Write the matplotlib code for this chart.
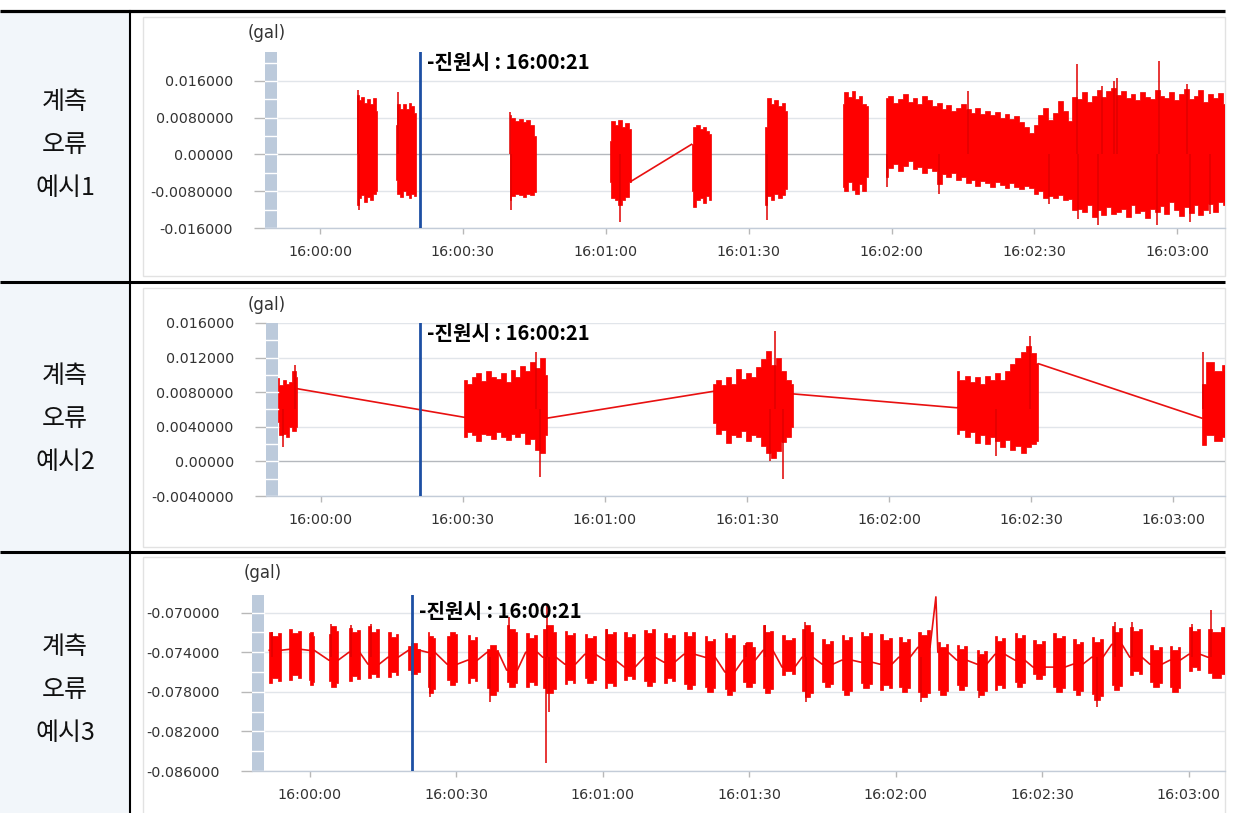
import numpy as np
import matplotlib
matplotlib.use('Agg')
import matplotlib.pyplot as plt
from matplotlib.patches import Rectangle
from matplotlib.transforms import blended_transform_factory, Bbox, TransformedBbox

plt.rcParams['font.family'] = ['DejaVu Sans', 'Noto Sans CJK KR']
CJK = ['Noto Sans CJK KR', 'DejaVu Sans']

W, H = 1234, 813

# ---------------- data (seconds after 16:00:00, gal) ----------------
row_labels = [['계측', '오류', '예시1'], ['계측', '오류', '예시2'], ['계측', '오류', '예시3']]
x_ticks = [0, 30, 60, 90, 120, 150, 180]
x_tick_labels = ['16:00:00', '16:00:30', '16:01:00', '16:01:30', '16:02:00', '16:02:30', '16:03:00']
origin_sec = 21
origin_label = '-진원시 : 16:00:21'
unit_label = '(gal)'

# panel 1: recorded bursts (start, end, upper / lower envelope)
p1_yticks = [0.016, 0.008, 0.0, -0.008, -0.016]
p1_ylabels = ['0.016000', '0.0080000', '0.00000', '-0.0080000', '-0.016000']
p1_t0 = [7.8, 15.9, 39.8, 60.8, 78.0, 93.5, 109.7, 118.8]
p1_t1 = [12.0, 20.1, 45.3, 65.2, 82.1, 98.1, 115.0, 190.0]
p1_up = [
    [0.0130, 0.0118, 0.0125, 0.0112, 0.0120, 0.0110, 0.0122, 0.0095],
    [0.0065, 0.0110, 0.0100, 0.0110, 0.0098, 0.0112, 0.0105, 0.0090],
    [0.0085, 0.0080, 0.0072, 0.0078, 0.0070, 0.0075, 0.0065, 0.0040],
    [0.0030, 0.0072, 0.0065, 0.0075, 0.0060, 0.0068, 0.0055],
    [0.0022, 0.0060, 0.0064, 0.0055, 0.0060, 0.0050, 0.0045],
    [0.0060, 0.0123, 0.0110, 0.0118, 0.0105, 0.0112, 0.0095],
    [0.0110, 0.0135, 0.0125, 0.0138, 0.0120, 0.0128, 0.0110, 0.0105],
    [0.0123, 0.0128, 0.0112, 0.0120, 0.0131, 0.0115, 0.0122, 0.0110, 0.0127, 0.0118,
     0.0105, 0.0112, 0.0100, 0.0108, 0.0094, 0.0102, 0.0110, 0.0098, 0.0090, 0.0102,
     0.0088, 0.0095, 0.0085, 0.0092, 0.0080, 0.0087, 0.0078, 0.0083, 0.0070, 0.0060,
     0.0047, 0.0065, 0.0085, 0.0102, 0.0075, 0.0090, 0.0116, 0.0095, 0.0072, 0.0125,
     0.0120, 0.0135, 0.0115, 0.0128, 0.0140, 0.0125, 0.0138, 0.0145, 0.0130, 0.0138,
     0.0122, 0.0131, 0.0118, 0.0135, 0.0125, 0.0120, 0.0140, 0.0128, 0.0123, 0.0135,
     0.0118, 0.0131, 0.0142, 0.0120, 0.0127, 0.0140, 0.0115, 0.0131, 0.0122, 0.0134,
     0.0109],
]
p1_lo = [
    [-0.0110, -0.0095, -0.0088, -0.0103, -0.0092, -0.0100, -0.0085, -0.0080],
    [-0.0055, -0.0085, -0.0092, -0.0080, -0.0088, -0.0094, -0.0085, -0.0090],
    [-0.0100, -0.0090, -0.0085, -0.0088, -0.0092, -0.0086, -0.0088, -0.0082],
    [-0.0060, -0.0095, -0.0100, -0.0110, -0.0098, -0.0092, -0.0060],
    [-0.0080, -0.0115, -0.0100, -0.0095, -0.0105, -0.0090, -0.0098],
    [-0.0110, -0.0090, -0.0100, -0.0085, -0.0095, -0.0088, -0.0075],
    [-0.0070, -0.0080, -0.0060, -0.0078, -0.0085, -0.0065, -0.0080, -0.0050],
    [-0.0050, -0.0030, -0.0020, -0.0035, -0.0025, -0.0015, -0.0032, -0.0028, -0.0040, -0.0030,
     -0.0035, -0.0065, -0.0042, -0.0048, -0.0040, -0.0055, -0.0050, -0.0062, -0.0055, -0.0068,
     -0.0058, -0.0063, -0.0070, -0.0060, -0.0066, -0.0072, -0.0062, -0.0070, -0.0075, -0.0068,
     -0.0074, -0.0085, -0.0080, -0.0095, -0.0090, -0.0095, -0.0088, -0.0100, -0.0096, -0.0120,
     -0.0118, -0.0125, -0.0110, -0.0135, -0.0120, -0.0132, -0.0115, -0.0130, -0.0125, -0.0118,
     -0.0135, -0.0110, -0.0128, -0.0122, -0.0138, -0.0118, -0.0125, -0.0112, -0.0130, -0.0103,
     -0.0120, -0.0134, -0.0115, -0.0128, -0.0110, -0.0132, -0.0120, -0.0108, -0.0125, -0.0103,
     -0.0110],
]
p1_spike_t = [7.9, 8.1, 16.3, 39.9, 40.1, 62.9, 93.8, 119.0, 129.9, 136.1, 153.0,
              158.9, 159.2, 163.4, 164.1, 166.6, 167.3, 175.7, 176.2, 182.0, 182.7, 186.9]
p1_spike_v = [0.0140, -0.0120, 0.0136, 0.0093, -0.0120, -0.0147, -0.0142, -0.0070, -0.0085, 0.0138, -0.0107,
              0.0197, -0.0140, -0.0153, 0.0149, 0.0160, 0.0167, -0.0154, 0.0204, 0.0153, -0.0147, -0.0130]
p1_link_t = [65.2, 78.0]
p1_link_v = [-0.0059, 0.0022]

# panel 2
p2_yticks = [0.016, 0.012, 0.008, 0.004, 0.0, -0.004]
p2_ylabels = ['0.016000', '0.012000', '0.0080000', '0.0040000', '0.00000', '-0.0040000']
p2_t0 = [-9.1, 30.3, 82.9, 134.3, 186.0]
p2_t1 = [-4.9, 47.8, 99.8, 151.5, 191.0]
p2_up = [
    [0.0096, 0.0088, 0.0094, 0.0090, 0.0092, 0.0104, 0.0098],
    [0.0094, 0.0090, 0.0098, 0.0102, 0.0093, 0.0105, 0.0098, 0.0095, 0.0102, 0.0092,
     0.0106, 0.0098, 0.0110, 0.0104, 0.0115, 0.0108, 0.0120, 0.0100],
    [0.0090, 0.0094, 0.0088, 0.0098, 0.0090, 0.0107, 0.0095, 0.0102, 0.0098, 0.0109,
     0.0118, 0.0128, 0.0112, 0.0120, 0.0105, 0.0094, 0.0090],
    [0.0104, 0.0094, 0.0099, 0.0092, 0.0097, 0.0090, 0.0099, 0.0094, 0.0102, 0.0094,
     0.0105, 0.0113, 0.0120, 0.0127, 0.0133, 0.0125, 0.0113],
    [0.0090, 0.0115, 0.0105, 0.0112],
]
p2_lo = [
    [0.0045, 0.0030, 0.0032, 0.0028, 0.0040, 0.0035, 0.0040],
    [0.0028, 0.0034, 0.0030, 0.0024, 0.0032, 0.0030, 0.0026, 0.0034, 0.0028, 0.0025,
     0.0032, 0.0028, 0.0033, 0.0020, 0.0026, 0.0013, 0.0010, 0.0030],
    [0.0044, 0.0032, 0.0036, 0.0021, 0.0030, 0.0028, 0.0035, 0.0024, 0.0030, 0.0028,
     0.0018, 0.0010, 0.0004, 0.0012, 0.0022, 0.0028, 0.0040],
    [0.0032, 0.0036, 0.0028, 0.0034, 0.0021, 0.0030, 0.0020, 0.0028, 0.0024, 0.0017,
     0.0025, 0.0013, 0.0018, 0.0010, 0.0017, 0.0020, 0.0024],
    [0.0019, 0.0030, 0.0024, 0.0028],
]
p2_spike_t = [-8.0, -5.4, 45.5, 46.4, 94.9, 95.9, 97.7, 142.5, 149.8, 186.3]
p2_spike_v = [0.0017, 0.0111, 0.0127, -0.0018, 0.0000, 0.0151, -0.0020, 0.0006, 0.0145, 0.0127]
p2_link_t = [-4.9, 30.3, 47.8, 82.9, 99.8, 134.3, 151.5, 186.0]
p2_link_v = [0.0084, 0.0051, 0.0050, 0.0081, 0.0078, 0.0062, 0.0113, 0.0050]

# panel 3
p3_yticks = [-0.070, -0.074, -0.078, -0.082, -0.086]
p3_ylabels = ['-0.070000', '-0.074000', '-0.078000', '-0.082000', '-0.086000']
p3_t0 = [-8.3, -4.2, -0.2, 3.9, 8.0, 11.9, 16.0, 20.2, 24.1, 28.1,
         32.3, 36.3, 40.3, 44.2, 47.7, 52.2, 56.3, 60.4, 64.4, 68.5,
         72.5, 76.6, 80.9, 85.0, 88.7, 92.8, 96.7, 100.8, 104.9, 108.9,
         112.8, 116.7, 120.6, 124.5, 128.6, 132.5, 136.6, 140.3, 144.4, 148.1,
         152.2, 156.3, 160.1, 164.2, 167.9, 172.0, 176.1, 180.0, 183.9]
p3_t1 = [-6.0, -1.9, 0.9, 5.8, 10.2, 14.2, 18.1, 22.5, 25.6, 30.2,
         34.3, 38.6, 42.5, 46.6, 50.4, 54.4, 58.5, 62.6, 66.6, 70.7,
         74.7, 78.8, 83.0, 87.0, 91.2, 94.8, 99.3, 103.0, 107.1, 111.0,
         115.1, 119.2, 122.9, 127.0, 130.7, 134.5, 138.6, 142.3, 146.4, 150.5,
         154.6, 158.3, 162.4, 166.3, 170.4, 174.5, 178.2, 182.3, 187.4]
p3_up = [
    [-0.0719, -0.0724, -0.0721], [-0.0716, -0.0721, -0.0718], [-0.0721, -0.0719, -0.0724],
    [-0.0722, -0.0713, -0.0718], [-0.0715, -0.0720, -0.0717], [-0.0713, -0.0719, -0.0716],
    [-0.0719, -0.0725, -0.0722], [-0.0734, -0.0731, -0.0737], [-0.0720, -0.0724, -0.0726],
    [-0.0724, -0.0719, -0.0722], [-0.0723, -0.0728, -0.0725], [-0.0737, -0.0733, -0.0738],
    [-0.0712, -0.0716, -0.0720], [-0.0721, -0.0726, -0.0723], [-0.0716, -0.0712, -0.0720],
    [-0.0718, -0.0723, -0.0721], [-0.0722, -0.0726, -0.0724], [-0.0716, -0.0722, -0.0719],
    [-0.0720, -0.0725, -0.0722], [-0.0717, -0.0721, -0.0716], [-0.0721, -0.0726, -0.0723],
    [-0.0719, -0.0724, -0.0720], [-0.0724, -0.0729, -0.0727], [-0.0721, -0.0726, -0.0723],
    [-0.0733, -0.0730, -0.0735], [-0.0712, -0.0720, -0.0718], [-0.0723, -0.0728, -0.0726],
    [-0.0716, -0.0712, -0.0720], [-0.0727, -0.0732, -0.0729], [-0.0723, -0.0728, -0.0725],
    [-0.0720, -0.0724, -0.0721], [-0.0722, -0.0728, -0.0726], [-0.0725, -0.0730, -0.0727],
    [-0.0719, -0.0723, -0.0717], [-0.0730, -0.0735, -0.0732], [-0.0733, -0.0737, -0.0734],
    [-0.0738, -0.0742, -0.0739], [-0.0724, -0.0729, -0.0726], [-0.0721, -0.0726, -0.0723],
    [-0.0728, -0.0732, -0.0729], [-0.0721, -0.0726, -0.0724], [-0.0727, -0.0732, -0.0730],
    [-0.0725, -0.0730, -0.0727], [-0.0713, -0.0719, -0.0715], [-0.0714, -0.0718, -0.0716],
    [-0.0733, -0.0738, -0.0735], [-0.0734, -0.0738, -0.0735], [-0.0714, -0.0718, -0.0716],
    [-0.0716, -0.0720, -0.0714],
]
p3_lo = [
    [-0.0771, -0.0766, -0.0769], [-0.0768, -0.0763, -0.0766], [-0.0768, -0.0773, -0.0770],
    [-0.0769, -0.0775, -0.0771], [-0.0769, -0.0764, -0.0767], [-0.0766, -0.0762, -0.0765],
    [-0.0765, -0.0760, -0.0763], [-0.0758, -0.0762, -0.0760], [-0.0775, -0.0781, -0.0777],
    [-0.0768, -0.0773, -0.0770], [-0.0771, -0.0766, -0.0769], [-0.0776, -0.0783, -0.0779],
    [-0.0770, -0.0775, -0.0771], [-0.0775, -0.0770, -0.0773], [-0.0776, -0.0781, -0.0777],
    [-0.0772, -0.0768, -0.0771], [-0.0766, -0.0771, -0.0768], [-0.0776, -0.0771, -0.0774],
    [-0.0768, -0.0764, -0.0767], [-0.0769, -0.0774, -0.0770], [-0.0771, -0.0766, -0.0769],
    [-0.0772, -0.0777, -0.0773], [-0.0775, -0.0780, -0.0776], [-0.0777, -0.0783, -0.0779],
    [-0.0770, -0.0775, -0.0771], [-0.0776, -0.0781, -0.0777], [-0.0763, -0.0759, -0.0762],
    [-0.0779, -0.0785, -0.0781], [-0.0770, -0.0775, -0.0772], [-0.0778, -0.0783, -0.0779],
    [-0.0771, -0.0776, -0.0772], [-0.0778, -0.0773, -0.0776], [-0.0775, -0.0780, -0.0776],
    [-0.0780, -0.0785, -0.0781], [-0.0778, -0.0783, -0.0779], [-0.0773, -0.0778, -0.0774],
    [-0.0778, -0.0783, -0.0779], [-0.0778, -0.0773, -0.0776], [-0.0770, -0.0775, -0.0771],
    [-0.0762, -0.0767, -0.0763], [-0.0775, -0.0780, -0.0776], [-0.0778, -0.0783, -0.0779],
    [-0.0782, -0.0788, -0.0784], [-0.0773, -0.0778, -0.0774], [-0.0763, -0.0759, -0.0762],
    [-0.0770, -0.0775, -0.0771], [-0.0775, -0.0780, -0.0776], [-0.0759, -0.0755, -0.0758],
    [-0.0761, -0.0766, -0.0762],
]
p3_spike_t = [-7.8, 4.3, 8.5, 12.6, 24.6, 36.9, 40.8, 48.3, 48.6, 49.0, 60.9,
              89.3, 93.3, 101.3, 101.6, 125.2, 137.1, 161.2, 164.9, 168.4, 180.6, 184.6]
p3_spike_v = [-0.0719, -0.0711, -0.0712, -0.0711, -0.0785, -0.0790, -0.0704, -0.0852, -0.0692, -0.0800, -0.0716,
              -0.0731, -0.0712, -0.0709, -0.0790, -0.0790, -0.0786, -0.0795, -0.0709, -0.0709, -0.0711, -0.0697]
p3_link = [-0.0738, -0.0737, -0.0738, -0.0748, -0.0740, -0.0752, -0.0745, -0.0738, -0.0740, -0.0752,
           -0.0748, -0.0740, -0.0758, -0.0740, -0.0745, -0.0752, -0.0742, -0.0748, -0.0755, -0.0745,
           -0.0750, -0.0742, -0.0745, -0.0760, -0.0748, -0.0738, -0.0755, -0.0745, -0.0752, -0.0748,
           -0.0750, -0.0752, -0.0745, -0.0735, -0.0740, -0.0748, -0.0752, -0.0742, -0.0748, -0.0755,
           -0.0755, -0.0752, -0.0745, -0.0732, -0.0745, -0.0752, -0.0748, -0.0742, -0.0745]
p3_link_spike_t = [128.2]
p3_link_spike_v = [-0.0684]


# ---------------- drawing ----------------
fig = plt.figure(figsize=(W / 100, H / 100), dpi=100)
fig.patch.set_facecolor('white')

bg = fig.add_axes([0, 0, 1, 1], zorder=0)
bg.set_xlim(0, W)
bg.set_ylim(H, 0)
bg.axis('off')

# table cells and lines
bg.add_patch(Rectangle((0, 11), 129, H - 11, fc='#f2f6fa', ec='none'))
for top, bottom in [(17, 276), (288, 547), (557, H + 5)]:
    bg.add_patch(Rectangle((143, top), 1082, bottom - top, fill=False, ec='#e2e2e2', lw=1))
bg.plot([0, 1225], [11, 11], color='black', lw=2.3, solid_capstyle='butt')
bg.plot([0, 1225], [282, 282], color='black', lw=2.2, solid_capstyle='butt')
bg.plot([0, 1225], [552, 552], color='black', lw=2.2, solid_capstyle='butt')
bg.plot([129.5, 129.5], [11, H], color='black', lw=1.5)

label_rows = [[102, 145, 188], [376, 419, 462], [647, 690, 733]]
for words, ys in zip(row_labels, label_rows):
    for w, y in zip(words, ys):
        bg.text(65, y, w, ha='center', va='center', fontsize=18, family=CJK, color='#111111')

for x, y in [(267, 33), (267, 305), (263, 573)]:
    bg.text(x, y, unit_label, ha='center', va='center', fontsize=12, color='#333333')

clip_right = TransformedBbox(Bbox.from_extents(0, 0, 1225 / W, 1), fig.transFigure)


def add_px_axes(left, top, right, bottom):
    ax = fig.add_axes([left / W, 1 - bottom / H, (right - left) / W, (bottom - top) / H], zorder=1)
    ax.set_facecolor('none')
    return ax, 12.0 / (right - left)


def step_outline(tt, up, lo):
    # one closed outline: each sample holds its envelope until the next midpoint
    edges = [tt[0]] + [(tt[i] + tt[i + 1]) / 2 for i in range(len(tt) - 1)] + [tt[-1]]
    xs, ys = [], []
    for i in range(len(tt)):
        xs += [edges[i], edges[i + 1]]
        ys += [up[i], up[i]]
    for i in reversed(range(len(tt))):
        xs += [edges[i + 1], edges[i]]
        ys += [lo[i], lo[i]]
    return xs, ys


def draw_panel(ax, bar_w, xlim, ylim, yticks, ylabels, t0s, t1s, ups, los,
               spike_t, spike_v, spike_base, link_t, link_v, text_frac, dark_zero):
    ax.set_xlim(*xlim)
    ax.set_ylim(*ylim)
    for s in ['top', 'right', 'left']:
        ax.spines[s].set_visible(False)
    ax.spines['bottom'].set_color('#c3ccd8')
    ax.spines['bottom'].set_linewidth(1.0)
    ax.set_yticks(yticks)
    ax.set_yticklabels(ylabels)
    ax.set_xticks(x_ticks)
    ax.set_xticklabels(x_tick_labels)
    ax.tick_params(axis='y', length=8, width=1, color='#b8b8b8', pad=15,
                   labelsize=10.3, labelcolor='#333333')
    ax.tick_params(axis='x', length=4, width=1, color='#b8b8b8', pad=8,
                   labelsize=10.3, labelcolor='#333333')
    for lbl in ax.get_xticklabels():
        lbl.set_clip_box(clip_right)
        lbl.set_clip_on(True)

    for y in yticks:
        c = '#b4b8bd' if (dark_zero and y == 0) else '#e1e5ea'
        ax.axhline(y, color=c, lw=1, zorder=1)

    # connecting lines where samples are missing
    ax.plot(link_t, link_v, color='#e81010', lw=1.2, zorder=2)

    # bursts of recorded samples
    for t0, t1, up, lo in zip(t0s, t1s, ups, los):
        tt = np.linspace(t0, t1, len(up))
        xs, ys = step_outline(tt, up, lo)
        ax.fill(xs, ys, facecolor='#ff0000', edgecolor='#f00000', lw=0.5, zorder=3)
    ax.vlines(spike_t, spike_base, spike_v, color='#e00000', lw=1.1, zorder=3)

    # striped gray bar at the left edge
    ax.add_patch(Rectangle((0, 0), bar_w, 1, transform=ax.transAxes,
                           fc='#bccadb', ec='none', zorder=5))
    tr = blended_transform_factory(ax.transAxes, ax.transData)
    step = abs(yticks[0] - yticks[1]) / 2
    y = min(yticks)
    while y < ylim[1]:
        ax.plot([0, bar_w], [y, y], transform=tr, color='white', lw=1, zorder=6)
        y += step

    # origin time line
    ax.axvline(origin_sec, color='#1d4fa3', lw=2.0, zorder=7)
    ax.annotate(origin_label, xy=(origin_sec, text_frac), xycoords=('data', 'axes fraction'),
                xytext=(5, 0), textcoords='offset points', va='center', ha='left',
                fontsize=14.5, fontweight='bold', family=CJK, color='black', zorder=8)


ax1, bw1 = add_px_axes(265, 52, 1225, 228)
draw_panel(ax1, bw1, (-11.55, 190.0), (-0.016, 0.0223), p1_yticks, p1_ylabels,
           p1_t0, p1_t1, p1_up, p1_lo, p1_spike_t, p1_spike_v, 0.0,
           p1_link_t, p1_link_v, 0.943, True)

ax2, bw2 = add_px_axes(265.7, 323, 1225, 496)
draw_panel(ax2, bw2, (-11.6, 190.9), (-0.004, 0.016), p2_yticks, p2_ylabels,
           p2_t0, p2_t1, p2_up, p2_lo, p2_spike_t, p2_spike_v, 0.006,
           p2_link_t, p2_link_v, 0.94, True)

# panel 3 connector polyline built from burst ends and link levels
pts = []
for t0, t1, lv in zip(p3_t0, p3_t1, p3_link):
    pts += [(t0, lv), (t1, lv)]
pts += list(zip(p3_link_spike_t, p3_link_spike_v))
pts.sort()
p3_link_t = [p[0] for p in pts]
p3_link_v = [p[1] for p in pts]

ax3, bw3 = add_px_axes(251.7, 595, 1225, 771)
draw_panel(ax3, bw3, (-11.9, 187.4), (-0.086, -0.06821), p3_yticks, p3_ylabels,
           p3_t0, p3_t1, p3_up, p3_lo, p3_spike_t, p3_spike_v, -0.0745,
           p3_link_t, p3_link_v, 0.905, False)

fig.savefig('out.png', dpi=100)
